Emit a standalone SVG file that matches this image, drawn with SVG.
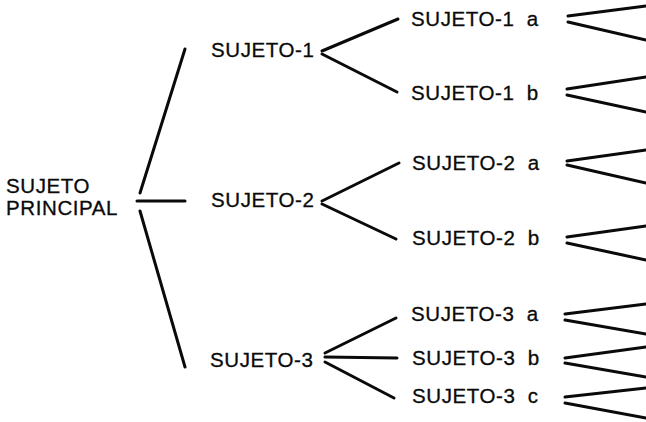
<svg xmlns="http://www.w3.org/2000/svg" width="646" height="422" viewBox="0 0 646 422">
<style>
text{font-family:"Liberation Sans",Arial,Helvetica,sans-serif;font-size:20.5px;letter-spacing:0.6px;fill:#0a0a0a;stroke:#0a0a0a;stroke-width:0.3px}
.c line{stroke:#0a0a0a;stroke-width:3;stroke-linecap:round}
</style>
<rect width="646" height="422" fill="#fff"/>
<g class="c" id="connectors">
<line x1="140" y1="193" x2="185" y2="49"/>
<line x1="137" y1="201" x2="185" y2="201"/>
<line x1="140" y1="211" x2="185" y2="367"/>
<line x1="322" y1="51" x2="398" y2="19"/>
<line x1="322" y1="54" x2="397" y2="92"/>
<line x1="322" y1="201" x2="399" y2="163"/>
<line x1="322" y1="204" x2="396" y2="239"/>
<line x1="325" y1="353" x2="396" y2="318"/>
<line x1="325" y1="357" x2="397" y2="358"/>
<line x1="325" y1="362" x2="394" y2="398"/>
<line x1="568" y1="16" x2="646" y2="6"/>
<line x1="568" y1="22" x2="646" y2="40"/>
<line x1="567" y1="89" x2="646" y2="77"/>
<line x1="567" y1="95" x2="646" y2="112"/>
<line x1="567" y1="161" x2="646" y2="150"/>
<line x1="567" y1="165" x2="646" y2="183"/>
<line x1="567" y1="237" x2="646" y2="226"/>
<line x1="567" y1="243" x2="646" y2="260"/>
<line x1="565" y1="314" x2="646" y2="304"/>
<line x1="565" y1="320" x2="646" y2="334"/>
<line x1="565" y1="358" x2="646" y2="347"/>
<line x1="565" y1="363" x2="646" y2="377"/>
<line x1="565" y1="397" x2="646" y2="388"/>
<line x1="565" y1="403" x2="646" y2="418"/>
</g>
<g id="principal"><text x="6" y="193">SUJETO</text><text x="6" y="215">PRINCIPAL</text></g>
<g id="s1"><text x="211" y="57">SUJETO-1</text></g>
<g id="s2"><text x="211" y="207">SUJETO-2</text></g>
<g id="s3"><text x="210" y="367">SUJETO-3</text></g>
<g id="s1a"><text x="411" y="26">SUJETO-1 <tspan dx="6">a</tspan></text></g>
<g id="s1b"><text x="411" y="100">SUJETO-1 <tspan dx="6">b</tspan></text></g>
<g id="s2a"><text x="412" y="170">SUJETO-2 <tspan dx="6">a</tspan></text></g>
<g id="s2b"><text x="412" y="245">SUJETO-2 <tspan dx="6">b</tspan></text></g>
<g id="s3a"><text x="411" y="321">SUJETO-3 <tspan dx="6">a</tspan></text></g>
<g id="s3b"><text x="412" y="365">SUJETO-3 <tspan dx="6">b</tspan></text></g>
<g id="s3c"><text x="412" y="403">SUJETO-3 <tspan dx="6">c</tspan></text></g>
</svg>
